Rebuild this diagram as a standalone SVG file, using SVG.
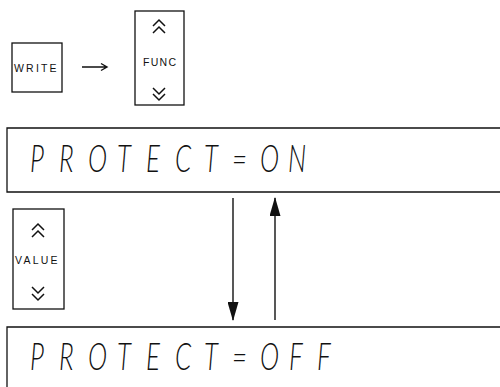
<svg xmlns="http://www.w3.org/2000/svg" width="500" height="387" viewBox="0 0 500 387">
<defs>
<style>
.box{fill:#fff;stroke:#111;stroke-width:1.3}
.lbl{font-family:"Liberation Sans",Arial,sans-serif;font-size:10.5px;fill:#111;letter-spacing:2.2px}
.chev{fill:none;stroke:#111;stroke-width:1.5;stroke-linejoin:miter}
.disp{font-family:Lato,"Liberation Sans",sans-serif;font-weight:300;font-style:italic;font-size:37px;fill:#111}
.conn{stroke:#111;stroke-width:1.4;fill:none}
</style>
<marker id="ah" viewBox="0 0 19 11" refX="18" refY="5.5" markerWidth="19" markerHeight="11" markerUnits="userSpaceOnUse" orient="auto-start-reverse">
<path d="M0,0 L19,5.5 L0,11 Z" fill="#111"/>
</marker>
</defs>
<rect width="500" height="387" fill="#fff"/>
<g id="write">
<rect class="box" x="12" y="43" width="50" height="49"/>
<text class="lbl" x="14" y="72">WRITE</text>
</g>
<g id="func">
<rect class="box" x="135" y="11" width="49" height="94"/>
<path class="chev" d="M153,26 L159,20 L165,26 M153,33 L159,27 L165,33"/>
<text class="lbl" x="143" y="66" style="letter-spacing:1.3px">FUNC</text>
<path class="chev" d="M153,88 L159,94 L165,88 M153,94 L159,100 L165,94"/>
</g>
<g id="value">
<rect class="box" x="13" y="209" width="51" height="100"/>
<path class="chev" d="M32,230 L38,224 L44,230 M32,237 L38,231 L44,237"/>
<text class="lbl" x="15" y="264">VALUE</text>
<path class="chev" d="M32,287 L38,293 L44,287 M32,294 L38,300 L44,294"/>
</g>
<g id="display-on">
<path class="box" d="M501,128 L7,128 L7,192 L501,192"/>
<text class="disp" transform="scale(0.7,1)" x="42.9 84.3 125.7 167.1 208.6 250 291.4 331.4 371.4 411.4" y="172">PROTECT=ON</text>
</g>
<g id="display-off">
<path class="box" d="M501,327 L7,327 L7,390"/>
<text class="disp" transform="scale(0.7,1)" x="42.9 84.3 125.7 167.1 208.6 250 291.4 331.4 371.4 412.9 452.9" y="370">PROTECT=OFF</text>
</g>
<g id="connectors">
<path class="conn" d="M82,67 L107,67 M101,63.5 L107,67 L101,70.5"/>
<line class="conn" x1="233" y1="198" x2="233" y2="320" marker-end="url(#ah)"/>
<line class="conn" x1="275" y1="320" x2="275" y2="198" marker-end="url(#ah)"/>
</g>
</svg>
